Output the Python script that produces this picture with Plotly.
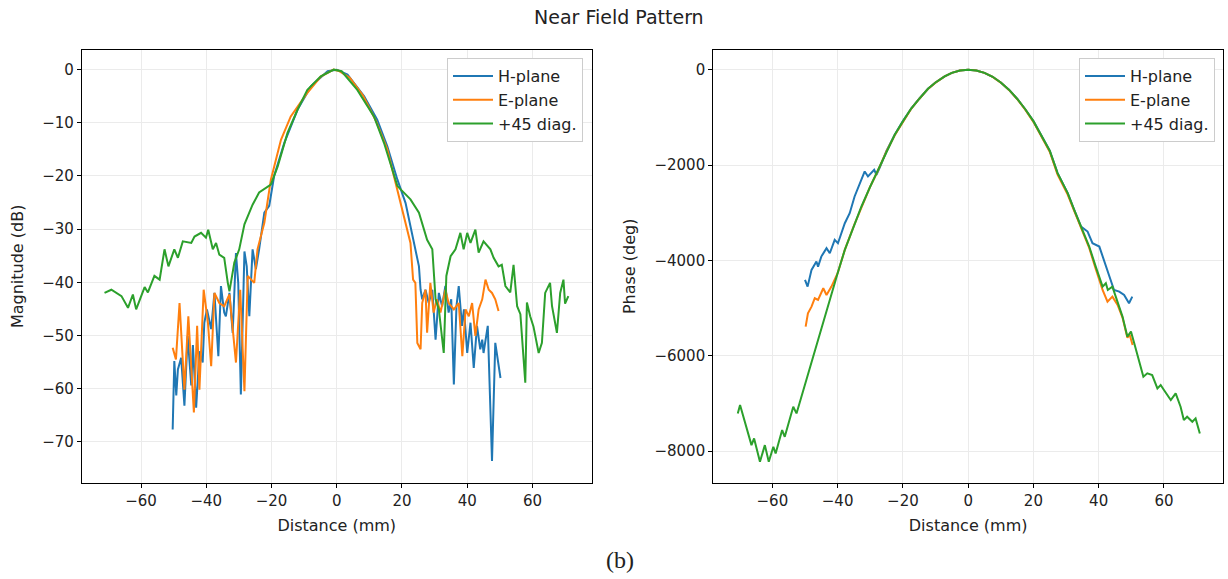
import plotly.graph_objects as go
from plotly.subplots import make_subplots

# ---------------- Magnitude (dB) ----------------
mag_h_x = [-50.3, -49.8, -49.2, -48.7, -47.7, -46.7, -45.7, -44.6, -44.1, -43.1, -42.1, -41.1, -40.6, -39.8,
           -38.5, -37.5, -36.3, -35.5, -34.5, -34.0, -32.9, -31.9, -30.9, -30.2, -29.4, -28.3, -27.6, -26.8,
           -25.8, -24.8, -23.8, -22.2, -20.7, -19.2, -16.1, -12.0, -7.9, -2.8, 0.0, 3.3, 8.4, 12.4, 15.5,
           18.6, 21.1, 23.6, 25.2, 25.7, 26.2, 27.2, 28.2, 29.3, 30.3, 31.3, 32.3, 33.3, 34.3, 35.1, 35.9,
           36.7, 37.4, 38.4, 39.0, 40.0, 41.0, 42.0, 43.0, 44.0, 44.6, 45.0, 46.3, 47.6, 48.6, 50.2]
mag_h_y = [-67.7, -54.8, -61.3, -56.4, -54.2, -63.2, -50.1, -59.4, -51.8, -63.6, -53.0, -55.1, -47.6, -45.1,
           -48.8, -42.0, -53.9, -40.7, -45.7, -46.4, -42.0, -49.5, -34.5, -40.1, -61.1, -34.2, -37.0, -46.4,
           -33.8, -37.5, -33.8, -26.9, -25.6, -20.0, -13.8, -7.5, -3.1, -0.3, 0.0, -0.9, -5.0, -9.4, -14.4,
           -20.7, -25.1, -32.6, -37.0, -41.4, -43.2, -41.4, -43.9, -41.4, -50.8, -42.0, -44.5, -40.7, -45.7,
           -43.2, -59.2, -44.5, -40.7, -48.2, -45.1, -53.3, -47.6, -56.1, -48.2, -52.6, -50.8, -53.3, -48.2,
           -73.6, -51.4, -58.0]

mag_e_x = [-50.3, -49.3, -48.2, -46.7, -45.5, -43.8, -42.8, -42.1, -40.8, -39.5, -38.5, -37.5, -36.0, -34.5,
           -32.9, -30.9, -29.6, -28.3, -27.3, -25.3, -24.3, -22.2, -20.2, -17.1, -14.1, -9.2, -4.9, -1.0, 0.5,
           4.0, 8.0, 12.0, 15.5, 18.6, 20.6, 22.6, 23.4, 24.1, 24.7, 25.7, 26.2, 27.2, 27.7, 28.7, 29.7, 30.7,
           31.8, 33.3, 34.3, 35.9, 37.4, 38.5, 39.5, 40.5, 41.5, 42.5, 43.5, 44.6, 45.6, 46.6, 47.6, 48.6, 49.6]
mag_e_y = [-52.3, -54.5, -43.9, -60.2, -46.4, -64.5, -48.2, -60.2, -41.4, -47.6, -55.8, -42.0, -43.9, -44.5,
           -42.3, -55.1, -41.4, -60.5, -38.8, -40.1, -33.8, -28.8, -20.7, -13.2, -8.8, -4.5, -1.3, 0.0, -0.2,
           -1.5, -4.8, -9.6, -15.0, -22.5, -27.6, -32.6, -39.5, -40.1, -51.4, -52.6, -43.9, -41.4, -49.5,
           -40.1, -45.7, -43.2, -45.7, -41.4, -43.9, -45.1, -43.9, -53.9, -45.1, -46.4, -43.9, -50.1, -45.1,
           -43.2, -39.5, -41.4, -42.0, -43.2, -45.4]

mag_d_x = [-71.2, -69.1, -66.0, -64.0, -62.5, -61.5, -58.9, -57.9, -55.9, -54.3, -52.8, -51.6, -49.8, -48.7,
           -47.2, -44.6, -43.6, -41.6, -40.1, -39.4, -38.0, -37.0, -36.0, -34.5, -33.4, -32.9, -31.4, -29.9,
           -28.3, -25.8, -23.8, -21.7, -20.2, -18.1, -15.1, -12.0, -9.0, -4.9, -0.9, 1.5, 6.3, 11.4, 14.5,
           18.6, 22.6, 25.2, 27.7, 29.3, 30.3, 31.3, 32.8, 33.6, 34.9, 36.4, 37.9, 38.9, 40.0, 41.0, 42.5,
           43.5, 45.0, 47.1, 48.1, 49.6, 50.6, 51.7, 53.2, 54.2, 55.3, 56.3, 57.8, 58.3, 59.3, 60.3, 61.9,
           62.9, 63.9, 65.4, 66.0, 67.5, 68.5, 69.5, 70.0, 71.0]
mag_d_y = [-42.0, -41.4, -42.6, -44.8, -42.3, -45.1, -40.9, -41.9, -38.8, -39.5, -33.8, -37.0, -33.8, -35.4,
           -32.3, -32.6, -31.4, -30.7, -31.6, -30.1, -33.8, -32.6, -34.8, -35.4, -40.1, -41.7, -36.3, -33.8,
           -29.1, -25.4, -23.1, -22.2, -21.6, -18.2, -11.9, -7.5, -3.8, -1.25, 0.0, -0.3, -3.8, -8.8, -13.8,
           -21.9, -24.4, -26.9, -32.0, -33.8, -43.2, -45.1, -53.3, -38.8, -35.1, -33.8, -30.7, -33.8, -30.7,
           -32.6, -30.1, -34.4, -32.3, -33.8, -35.4, -37.0, -36.7, -40.7, -41.9, -36.7, -44.5, -46.0, -58.9,
           -43.8, -46.4, -48.3, -53.3, -51.4, -42.0, -40.1, -44.5, -49.5, -42.0, -39.5, -44.0, -42.6]

# ---------------- Phase (deg) ----------------
ph_h_x = [-50.0, -49.2, -48.0, -46.5, -46.0, -45.0, -43.4, -42.4, -40.9, -39.9, -37.8, -36.3, -34.8, -33.2,
          -31.7, -30.7, -28.8, -28.1, -27.0, -25.0, -22.5, -20.0, -17.4, -15.0, -12.3, -10.0, -7.2, -5.0,
          -2.5, 0.0, 2.5, 5.0, 7.5, 10.0, 12.5, 15.0, 17.5, 20.0, 23.3, 25.0, 27.4, 30.5, 32.5, 34.6, 36.6,
          38.1, 40.2, 41.2, 43.2, 44.7, 46.3, 47.8, 49.3, 50.3]
ph_h_y = [-4409, -4550, -4199, -4024, -4130, -3920, -3745, -3850, -3570, -3640, -3220, -3010, -2660, -2380,
          -2135, -2240, -2100, -2205, -2040, -1700, -1365, -1080, -810, -610, -400, -270, -140, -68,
          -17, 0, -17, -68, -150, -270, -420, -610, -830, -1080, -1500, -1700, -2170, -2590, -2940, -3290,
          -3395, -3640, -3710, -3920, -4340, -4620, -4655, -4725, -4899, -4760]

ph_e_x = [-49.8, -49.1, -48.0, -47.0, -46.0, -44.4, -43.4, -41.9, -40.0, -37.8, -35.0, -32.7, -30.0, -27.6,
          -25.0, -22.5, -20.0, -17.4, -15.0, -12.3, -10.0, -7.2, -5.0, -2.5, 0.0, 2.5, 5.0, 7.5, 10.0, 12.5,
          15.0, 17.5, 20.0, 23.3, 25.0, 27.4, 30.5, 32.5, 34.6, 37.1, 39.1, 41.2, 42.7, 44.2, 45.8, 47.3,
          48.8, 49.5, 50.4]
ph_e_y = [-5390, -5109, -4969, -4794, -4829, -4584, -4725, -4550, -4270, -3780, -3270, -2880, -2450, -2110,
          -1710, -1375, -1090, -815, -615, -405, -272, -142, -68, -17, 0, -17, -68, -152, -272, -425,
          -615, -840, -1095, -1520, -1720, -2200, -2620, -2960, -3300, -3740, -4180, -4620, -4865, -4760,
          -4934, -5200, -5620, -5560, -5774]

ph_d_x = [-70.6, -69.9, -66.4, -65.6, -63.8, -62.3, -61.1, -59.7, -59.0, -57.0, -56.2, -53.6, -52.6, -50.0,
          -48.0, -45.0, -42.9, -40.0, -37.8, -35.0, -32.7, -30.0, -27.6, -25.0, -22.5, -20.0, -17.4, -15.0,
          -12.3, -10.0, -7.2, -5.0, -2.5, 0.0, 2.5, 5.0, 7.5, 10.0, 12.5, 15.0, 17.5, 20.0, 23.3, 25.0, 27.4,
          30.5, 32.5, 34.6, 37.1, 39.1, 41.2, 42.2, 42.8, 44.2, 45.8, 47.3, 48.8, 49.9, 50.9, 52.4, 53.7,
          54.9, 56.4, 58.0, 59.0, 60.0, 62.1, 63.6, 65.1, 66.1, 67.1, 68.7, 69.7, 71.0]
ph_d_y = [-7209, -7034, -7874, -7733, -8224, -7874, -8224, -7909, -8049, -7559, -7699, -7069, -7209, -6600,
          -6089, -5420, -4899, -4270, -3780, -3270, -2870, -2450, -2100, -1710, -1365, -1085, -810, -612,
          -400, -270, -140, -68, -17, 0, -17, -68, -150, -270, -420, -610, -830, -1080, -1500, -1700, -2170,
          -2590, -2940, -3290, -3710, -4130, -4550, -4480, -4620, -4550, -4899, -5179, -5599, -5494, -5739,
          -6089, -6439, -6369, -6404, -6684, -6614, -6719, -6929, -6789, -7069, -7349, -7279, -7384, -7314, -7629]

names = ["H-plane", "E-plane", "+45 diag."]
colors = ["#1f77b4", "#ff7f0e", "#2ca02c"]
x_ticks = [-60, -40, -20, 0, 20, 40, 60]
mag_ticks = [0, -10, -20, -30, -40, -50, -60, -70]
ph_ticks = [0, -2000, -4000, -6000, -8000]

FONT = "DejaVu Sans"
W, H = 1228, 579

fig = make_subplots(rows=1, cols=2)

for nm, c, xs, ys in zip(names, colors, [mag_h_x, mag_e_x, mag_d_x], [mag_h_y, mag_e_y, mag_d_y]):
    fig.add_trace(go.Scatter(x=xs, y=ys, mode="lines", name=nm, line=dict(color=c, width=2),
                             legend="legend"), row=1, col=1)
for nm, c, xs, ys in zip(names, colors, [ph_h_x, ph_e_x, ph_d_x], [ph_h_y, ph_e_y, ph_d_y]):
    fig.add_trace(go.Scatter(x=xs, y=ys, mode="lines", name=nm, line=dict(color=c, width=2),
                             legend="legend2"), row=1, col=2)

def px_x(p):
    return p / W

def px_y(p):
    return 1 - p / H

axis_common = dict(showline=True, linecolor="black", linewidth=1.2, mirror=True,
                   ticks="outside", ticklen=4, tickcolor="black", tickwidth=1,
                   showgrid=True, gridcolor="#ebebeb", gridwidth=1, zeroline=False,
                   tickfont=dict(family=FONT, size=15, color="#222"))
title_font = dict(family=FONT, size=16, color="#222")
legend_common = dict(yanchor="top", xanchor="right", bgcolor="white", bordercolor="#cccccc",
                     borderwidth=1, font=dict(family=FONT, size=16, color="#222"),
                     tracegroupgap=0, itemwidth=40)

fig.update_layout(
    width=W, height=H,
    margin=dict(l=0, r=0, t=0, b=0),
    paper_bgcolor="white", plot_bgcolor="white",
    font=dict(family=FONT, size=15, color="#222"),
    xaxis=dict(domain=[px_x(82), px_x(591.5)], range=[-78.1, 78.1], tickvals=x_ticks,
               title=dict(text="Distance (mm)", font=title_font, standoff=11), **axis_common),
    yaxis=dict(domain=[px_y(482.7), px_y(50)], range=[-77.7, 3.7], tickvals=mag_ticks,
               title=dict(text="Magnitude (dB)", font=title_font, standoff=14), **axis_common),
    xaxis2=dict(domain=[px_x(713.3), px_x(1223)], range=[-78.1, 78.1], tickvals=x_ticks,
                title=dict(text="Distance (mm)", font=title_font, standoff=11), **axis_common),
    yaxis2=dict(domain=[px_y(482.7), px_y(50)], range=[-8662, 412], tickvals=ph_ticks,
                title=dict(text="Phase (deg)", font=title_font, standoff=14), **axis_common),
    legend=dict(x=px_x(583), y=px_y(58), **legend_common),
    legend2=dict(x=px_x(1215), y=px_y(58), **legend_common),
    showlegend=True,
)

fig.add_annotation(text="Near Field Pattern", x=px_x(619), y=px_y(17), xref="paper", yref="paper",
                   showarrow=False, font=dict(family=FONT, size=19, color="#222"),
                   xanchor="center", yanchor="middle")
fig.add_annotation(text="(b)", x=px_x(620), y=px_y(560), xref="paper", yref="paper",
                   showarrow=False, font=dict(family="Liberation Serif", size=24, color="#222"),
                   xanchor="center", yanchor="middle")

fig.write_html("out.html")
